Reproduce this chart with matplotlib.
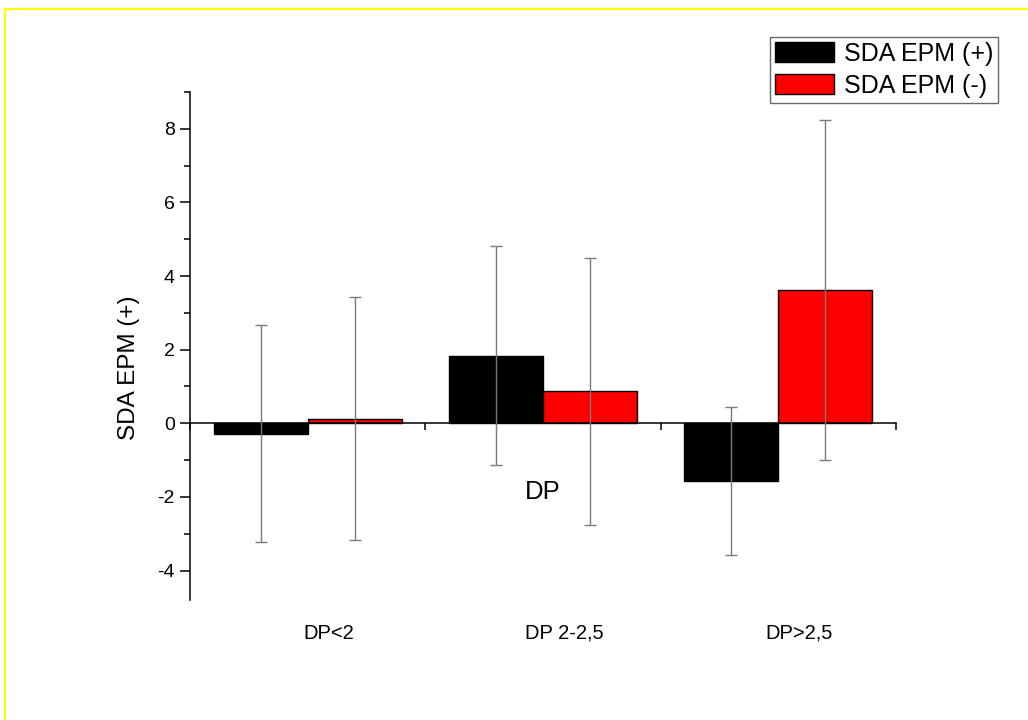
import matplotlib.pyplot as plt
from matplotlib.patches import Rectangle
from matplotlib.ticker import MultipleLocator
import numpy as np

plt.rcParams['font.family'] = ['Liberation Sans', 'DejaVu Sans']
plt.rcParams['axes.unicode_minus'] = False

groups = ['DP<2', 'DP 2-2,5', 'DP>2,5']
plus_mean = [-0.28, 1.84, -1.57]
plus_err = [2.94, 2.98, 2.0]
minus_mean = [0.13, 0.87, 3.63]
minus_err = [3.30, 3.63, 4.62]

W, H = 1028, 720
fig = plt.figure(figsize=(W / 100, H / 100), dpi=100)
ax = fig.add_axes([190 / W, 1 - 600 / H, 706 / W, 508 / H])

x = np.arange(len(groups)) + 0.5
bw = 0.4
ax.bar(x - bw / 2, plus_mean, bw, color='black', edgecolor='black', lw=1,
       label='SDA EPM (+)', zorder=2)
ax.bar(x + bw / 2, minus_mean, bw, color='#ff0000', edgecolor='black', lw=1,
       label='SDA EPM (-)', zorder=2)
ax.errorbar(x - bw / 2, plus_mean, yerr=plus_err, fmt='none', ecolor='#7a7a7a',
            elinewidth=1, capsize=4, capthick=1, zorder=3)
ax.errorbar(x + bw / 2, minus_mean, yerr=minus_err, fmt='none', ecolor='#7a7a7a',
            elinewidth=1, capsize=4, capthick=1, zorder=3)

ax.set_xlim(0, 3)
ax.set_ylim(-4.8, 9)
for s in ['top', 'right']:
    ax.spines[s].set_visible(False)
ax.spines['bottom'].set_position(('data', 0))
for s in ['left', 'bottom']:
    ax.spines[s].set_linewidth(1.1)

ax.set_xticks([0, 1, 2, 3])
ax.set_xticklabels([])
ax.tick_params(axis='x', direction='out', length=5, width=1.1)
ax.yaxis.set_major_locator(MultipleLocator(2))
ax.yaxis.set_minor_locator(MultipleLocator(1))
ax.tick_params(axis='y', which='major', direction='out', length=7, width=1.1,
               labelsize=14, pad=4)
ax.tick_params(axis='y', which='minor', direction='out', length=4, width=1.1)

# category names sit a little right of the group centres, as in the original
for xi, g in zip(x, groups):
    ax.text(xi + 0.09, -0.065, g, transform=ax.get_xaxis_transform(),
            ha='center', va='center', fontsize=14.5)

ax.set_xlabel('DP', fontsize=18.5)
ax.xaxis.set_label_coords(0.5, 0.236)
ax.set_ylabel('SDA EPM (+)', fontsize=17.5)
ax.yaxis.set_label_coords(-0.071, 0.457)

leg = ax.legend(loc='upper right', bbox_to_anchor=(998 / W, 1 - 37 / H),
                bbox_transform=fig.transFigure, fontsize=18, frameon=True,
                fancybox=False, borderaxespad=0, borderpad=0.2,
                handlelength=2.35, handleheight=0.85, handletextpad=0.4,
                labelspacing=0.3)
leg.get_frame().set_edgecolor('#444444')
leg.get_frame().set_linewidth(1)

fig.add_artist(Rectangle((5 / W, -0.1), 2, 1.1 - 9 / H, transform=fig.transFigure,
                         fill=False, edgecolor='#ffff00', lw=1.6, clip_on=False))

fig.savefig('out.png', dpi=100)
